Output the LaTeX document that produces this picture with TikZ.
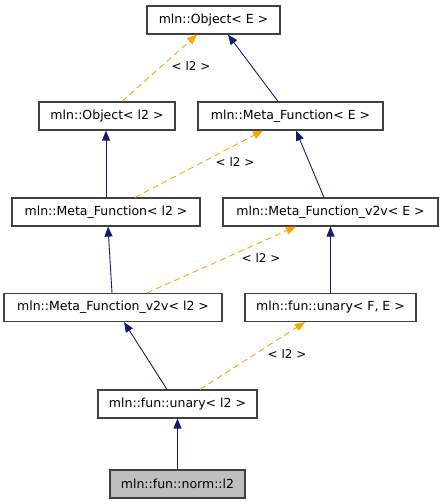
\documentclass[tikz,border=0pt]{standalone}
\usepackage{fontspec}
\setmainfont{DejaVu Sans}
\usetikzlibrary{arrows.meta}
\definecolor{edgeblue}{HTML}{191970}
\definecolor{edgeorange}{HTML}{FFA500}
\definecolor{boxline}{HTML}{404040}
\definecolor{boxgray}{HTML}{BFBFBF}
\begin{document}
\begin{tikzpicture}[x=1pt,y=-1pt,
  cls/.style={draw=boxline,line width=1.2pt,fill=white,minimum height=28pt,inner sep=0pt,font=\fontsize{12.5}{14}\selectfont},
  inh/.style={edgeblue,line width=0.9pt,-{Triangle[length=10pt,width=8pt]}},
  tmpl/.style={edgeorange,line width=0.9pt,dash pattern=on 6pt off 4pt,-{Triangle[length=10pt,width=8pt]}},
  lbl/.style={font=\fontsize{12}{14}\selectfont,inner sep=0pt}]
\useasboundingbox (0,0) rectangle (443,504);
\node[cls,minimum width=133pt] (objE) at (213.5,20) {mln::Object< E >};
\node[cls,minimum width=136pt] (objL) at (107,116) {mln::Object< l2 >};
\node[cls,minimum width=185pt] (mfE) at (290.5,116) {mln::Meta\_Function< E >};
\node[cls,minimum width=188pt] (mfL) at (106,212) {mln::Meta\_Function< l2 >};
\node[cls,minimum width=215pt] (vE) at (330.5,212) {mln::Meta\_Function\_v2v< E >};
\node[cls,minimum width=218pt] (vL) at (113,307.5) {mln::Meta\_Function\_v2v< l2 >};
\node[cls,minimum width=171pt] (uFE) at (330.5,307.5) {mln::fun::unary< F, E >};
\node[cls,minimum width=159pt] (uL) at (177.5,404) {mln::fun::unary< l2 >};
\node[cls,minimum width=135pt,fill=boxgray] (norm) at (177.5,484) {mln::fun::norm::l2};

\draw[tmpl] ([xshift=15pt]objL.north) -- ([xshift=-16.5pt]objE.south);
\draw[inh] ([xshift=-12.5pt]mfE.north) -- ([xshift=14.5pt]objE.south);
\draw[inh] ([xshift=0pt]mfL.north) -- ([xshift=-1pt]objL.south);
\draw[tmpl] ([xshift=29pt]mfL.north) -- ([xshift=-27.5pt]mfE.south);
\draw[inh] ([xshift=-6.5pt]vE.north) -- ([xshift=5.5pt]mfE.south);
\draw[inh] ([xshift=-1pt]vL.north) -- ([xshift=2pt]mfL.south);
\draw[tmpl] ([xshift=34pt]vL.north) -- ([xshift=-34.5pt]vE.south);
\draw[inh] (uFE.north) -- (vE.south);
\draw[inh] ([xshift=-10.5pt]uL.north) -- ([xshift=11pt]vL.south);
\draw[tmpl] ([xshift=22.5pt]uL.north) -- ([xshift=-25.5pt]uFE.south);
\draw[inh] (norm.north) -- (uL.south);

\node[lbl] (l1) at (191,66) {< l2 >};
\node[lbl] (l2) at (235,162) {< l2 >};
\node[lbl] (l3) at (261,258) {< l2 >};
\node[lbl] (l4) at (287,354) {< l2 >};
\end{tikzpicture}
\end{document}
